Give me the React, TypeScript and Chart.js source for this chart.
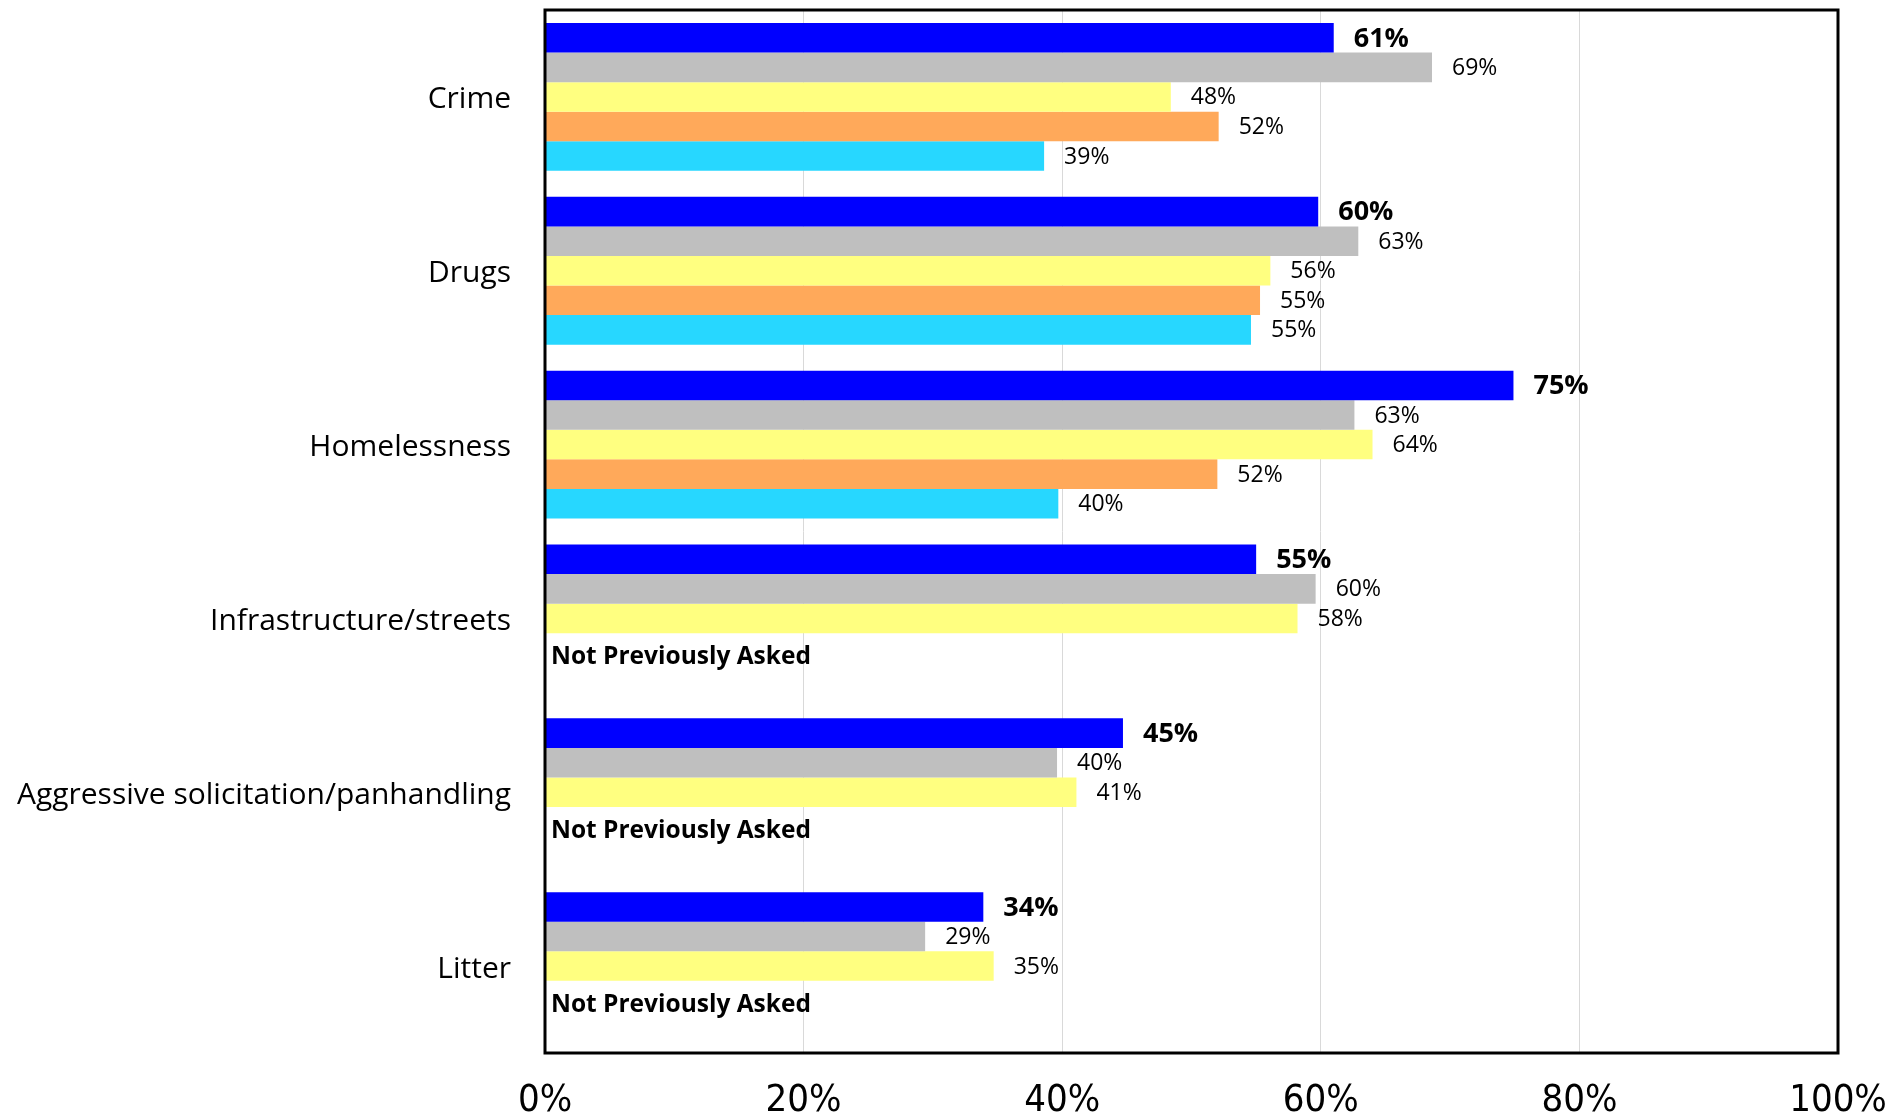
import React, { useEffect, useRef } from "react";
import { Chart, registerables } from "chart.js";

Chart.register(...registerables);

const categories = [
  "Crime",
  "Drugs",
  "Homelessness",
  "Infrastructure/streets",
  "Aggressive solicitation/panhandling",
  "Litter",
];

const seriesNames = ["Current", "Previous 1", "Previous 2", "Previous 3", "Previous 4"];

const series1 = [61, 59.8, 74.9, 55, 44.7, 33.9];
const series2 = [68.6, 62.9, 62.6, 59.6, 39.6, 29.4];
const series3 = [48.4, 56.1, 64, 58.2, 41.1, 34.7];
const series4: (number | null)[] = [52.1, 55.3, 52, null, null, null];
const series5: (number | null)[] = [38.6, 54.6, 39.7, null, null, null];

const labels1 = ["61%", "60%", "75%", "55%", "45%", "34%"];
const labels2 = ["69%", "63%", "63%", "60%", "40%", "29%"];
const labels3 = ["48%", "56%", "64%", "58%", "41%", "35%"];
const labels4 = ["52%", "55%", "52%", "", "", ""];
const labels5 = ["39%", "55%", "40%", "", "", ""];

const colors = ["#0000FF", "#BFBFBF", "#FFFF80", "#FFA95A", "#27D7FF"];
const notAskedText = "Not Previously Asked";
const xTicks = [0, 20, 40, 60, 80, 100];

const allSeries = [series1, series2, series3, series4, series5];
const allLabels = [labels1, labels2, labels3, labels4, labels5];

const CAT_PCT = 0.85;

export default function App() {
  const ref = useRef<HTMLCanvasElement | null>(null);

  useEffect(() => {
    if (!ref.current) return;

    const framePlugin = {
      id: "frame",
      afterDatasetsDraw(chart: any) {
        const { ctx, chartArea } = chart;
        ctx.save();
        // data labels
        chart.data.datasets.forEach((ds: any, di: number) => {
          const meta = chart.getDatasetMeta(di);
          meta.data.forEach((el: any, i: number) => {
            const txt = allLabels[di][i];
            const v = ds.data[i];
            if (v === null || v === undefined || !txt) return;
            ctx.font = di === 0 ? "bold 27px 'Open Sans'" : "23px 'Open Sans'";
            ctx.fillStyle = "#000";
            ctx.textAlign = "left";
            ctx.textBaseline = "middle";
            ctx.fillText(txt, el.x + 20, el.y + 1);
          });
        });
        // not previously asked
        const y = chart.scales.y;
        const band = y.getPixelForValue(1) - y.getPixelForValue(0);
        const slot = (band * CAT_PCT) / 5;
        categories.forEach((_, i) => {
          if (series4[i] === null) {
            const c = y.getPixelForValue(i);
            const cy = c - (band * CAT_PCT) / 2 + 3.5 * slot + 9;
            ctx.font = "bold 24.5px 'Open Sans'";
            ctx.fillStyle = "#000";
            ctx.textAlign = "left";
            ctx.textBaseline = "middle";
            ctx.fillText(notAskedText, chartArea.left + 6, cy);
          }
        });
        // frame
        ctx.strokeStyle = "#000";
        ctx.lineWidth = 3;
        ctx.strokeRect(
          chartArea.left,
          chartArea.top,
          chartArea.right - chartArea.left,
          chartArea.bottom - chartArea.top
        );
        ctx.restore();
      },
    };

    const chart = new Chart(ref.current, {
      type: "bar",
      data: {
        labels: categories,
        datasets: allSeries.map((d, i) => ({
          label: seriesNames[i],
          data: d,
          backgroundColor: colors[i],
          borderWidth: 0,
          barPercentage: 1.0,
          categoryPercentage: CAT_PCT,
        })),
      },
      options: {
        indexAxis: "y",
        animation: false,
        responsive: false,
        devicePixelRatio: 1,
        layout: { padding: { top: 10, right: 64, left: 0, bottom: 0 } },
        plugins: {
          legend: { display: false },
          tooltip: { enabled: false },
        },
        scales: {
          x: {
            min: 0,
            max: 100,
            afterBuildTicks(scale: any) {
              scale.ticks = xTicks.map((v) => ({ value: v }));
            },
            afterFit(scale: any) {
              scale.height = 60;
              scale.paddingLeft = 0;
              scale.paddingRight = 0;
              scale.paddingTop = 0;
              scale.paddingBottom = 0;
            },
            grid: {
              color: "#D9D9D9",
              lineWidth: 1,
              drawTicks: false,
            },
            border: { display: false },
            ticks: {
              padding: 25,
              color: "#000",
              maxRotation: 0,
              font: { family: "'Liberation Sans Narrow', 'DejaVu Sans Condensed', sans-serif", size: 38 },
              callback: (v: any) => v + "%",
            },
          },
          y: {
            afterFit(scale: any) {
              scale.width = 545;
              scale.paddingLeft = 0;
              scale.paddingRight = 0;
              scale.paddingTop = 0;
              scale.paddingBottom = 0;
            },
            grid: { display: false, drawTicks: false },
            border: { display: false },
            ticks: {
              padding: 34,
              labelOffset: 3,
              color: "#000",
              font: { family: "'Open Sans'", size: 30 },
            },
          },
        },
      },
      plugins: [framePlugin],
    } as any);

    return () => chart.destroy();
  }, []);

  return (
    <div style={{ position: "absolute", left: 0, top: 0, width: 1902, height: 1113, background: "#fff" }}>
      <canvas ref={ref} width={1902} height={1113} style={{ width: 1902, height: 1113 }} />
    </div>
  );
}
